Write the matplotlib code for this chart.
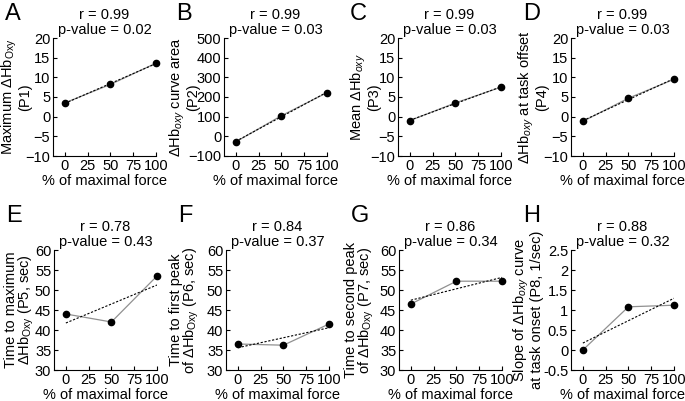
import matplotlib.pyplot as plt
import numpy as np

plt.rcParams['font.family'] = ['Liberation Sans', 'DejaVu Sans']
plt.rcParams['mathtext.fontset'] = 'custom'
plt.rcParams['mathtext.rm'] = 'Liberation Sans'
plt.rcParams['mathtext.it'] = 'Liberation Sans:italic'

# % of maximal force
force = [0, 50, 100]

# Values per panel
p1 = [3.5, 8.2, 13.6]
p2 = [-28, 105, 222]
p3 = [-1.0, 3.5, 7.5]
p4 = [-1.2, 4.7, 9.5]
p5 = [44.0, 42.0, 53.5]
p6 = [36.5, 36.2, 41.5]
p7 = [46.5, 52.2, 52.2]
p8 = [0.0, 1.08, 1.12]

letters = ['A', 'B', 'C', 'D', 'E', 'F', 'G', 'H']
r_vals = ['0.99', '0.99', '0.99', '0.99', '0.78', '0.84', '0.86', '0.88']
p_vals = ['0.02', '0.03', '0.03', '0.03', '0.43', '0.37', '0.34', '0.32']

tri = '\u0394Hb'
ylabels = [
    'Maximum ' + tri + r'$_{\mathrm{Oxy}}$' + '\n(P1)',
    tri + r'$_{\mathit{oxy}}$' + ' curve area\n(P2)',
    'Mean ' + tri + r'$_{\mathit{oxy}}$' + '\n(P3)',
    tri + r'$_{\mathit{oxy}}$' + ' at task offset\n(P4)',
    'Time to maximum\n' + tri + r'$_{\mathrm{Oxy}}$' + ' (P5, sec)',
    'Time to first peak\nof ' + tri + r'$_{\mathrm{Oxy}}$' + ' (P6, sec)',
    'Time to second peak\nof ' + tri + r'$_{\mathrm{Oxy}}$' + ' (P7, sec)',
    'Slope of ' + tri + r'$_{\mathit{oxy}}$' + ' curve\nat task onset (P8, 1/sec)',
]
ylims = [(-10, 20), (-100, 500), (-10, 20), (-10, 20),
         (30, 60), (30, 60), (30, 60), (-0.5, 2.5)]
yticks = [np.arange(-10, 21, 5), np.arange(-100, 501, 100),
          np.arange(-10, 21, 5), np.arange(-10, 21, 5),
          np.arange(30, 61, 5), np.arange(30, 61, 5), np.arange(30, 61, 5),
          np.arange(-0.5, 2.51, 0.5)]
yticklabels = [None, None, None, None, None, None, None,
               ['-0.5', '0', '0.5', '1', '1.5', '2', '2.5']]

data = [p1, p2, p3, p4, p5, p6, p7, p8]

W, H = 685, 401
fig = plt.figure(figsize=(6.85, 4.01), dpi=100)

# axes left edges (px), top/bottom per row, ylabel right edge (px)
lefts = [53, 224, 398, 571, 54, 226, 399, 571]
label_right = [32, 200, 381, 549, 36, 201, 376, 544]
rows = [(38, 156), (250, 370)]
letter_tops = [3, 205]
ax_w = 103
fs = 10.5

for i, y in enumerate(data):
    top, bot = rows[i // 4]
    ax = fig.add_axes([lefts[i] / W, 1 - bot / H, ax_w / W, (bot - top) / H])
    ax.plot(force, y, '-', color='#909090', lw=0.9, zorder=2)
    coef = np.polyfit(force, y, 1)
    fx = np.array([0, 100])
    ax.plot(fx, np.polyval(coef, fx), linestyle=(0, (2, 1.5)), color='black',
            lw=0.8, zorder=3)
    ax.plot(force, y, 'o', color='black', ms=4.5, zorder=4, clip_on=False)
    ax.set_xlim(-13, 100)
    ax.set_ylim(*ylims[i])
    ax.set_xticks([0, 25, 50, 75, 100])
    ax.set_yticks(yticks[i])
    if yticklabels[i] is not None:
        ax.set_yticklabels(yticklabels[i])
    ax.spines['top'].set_visible(False)
    ax.spines['right'].set_visible(False)
    ax.tick_params(direction='in', length=3, labelsize=fs, pad=2)
    ax.set_xlabel('% of maximal force', fontsize=fs, labelpad=1)
    ax.set_ylabel(ylabels[i], fontsize=fs, linespacing=0.92)
    ax.yaxis.set_label_coords((label_right[i] - lefts[i]) / ax_w, 0.5)
    ax.set_title('r = %s\np-value = %s' % (r_vals[i], p_vals[i]),
                 fontsize=fs, pad=3, linespacing=1.1)
    ax.text((lefts[i] - 48) / W, 1 - letter_tops[i // 4] / H, letters[i],
            transform=fig.transFigure, fontsize=17, ha='left', va='top')

fig.savefig('out.png', dpi=100)
